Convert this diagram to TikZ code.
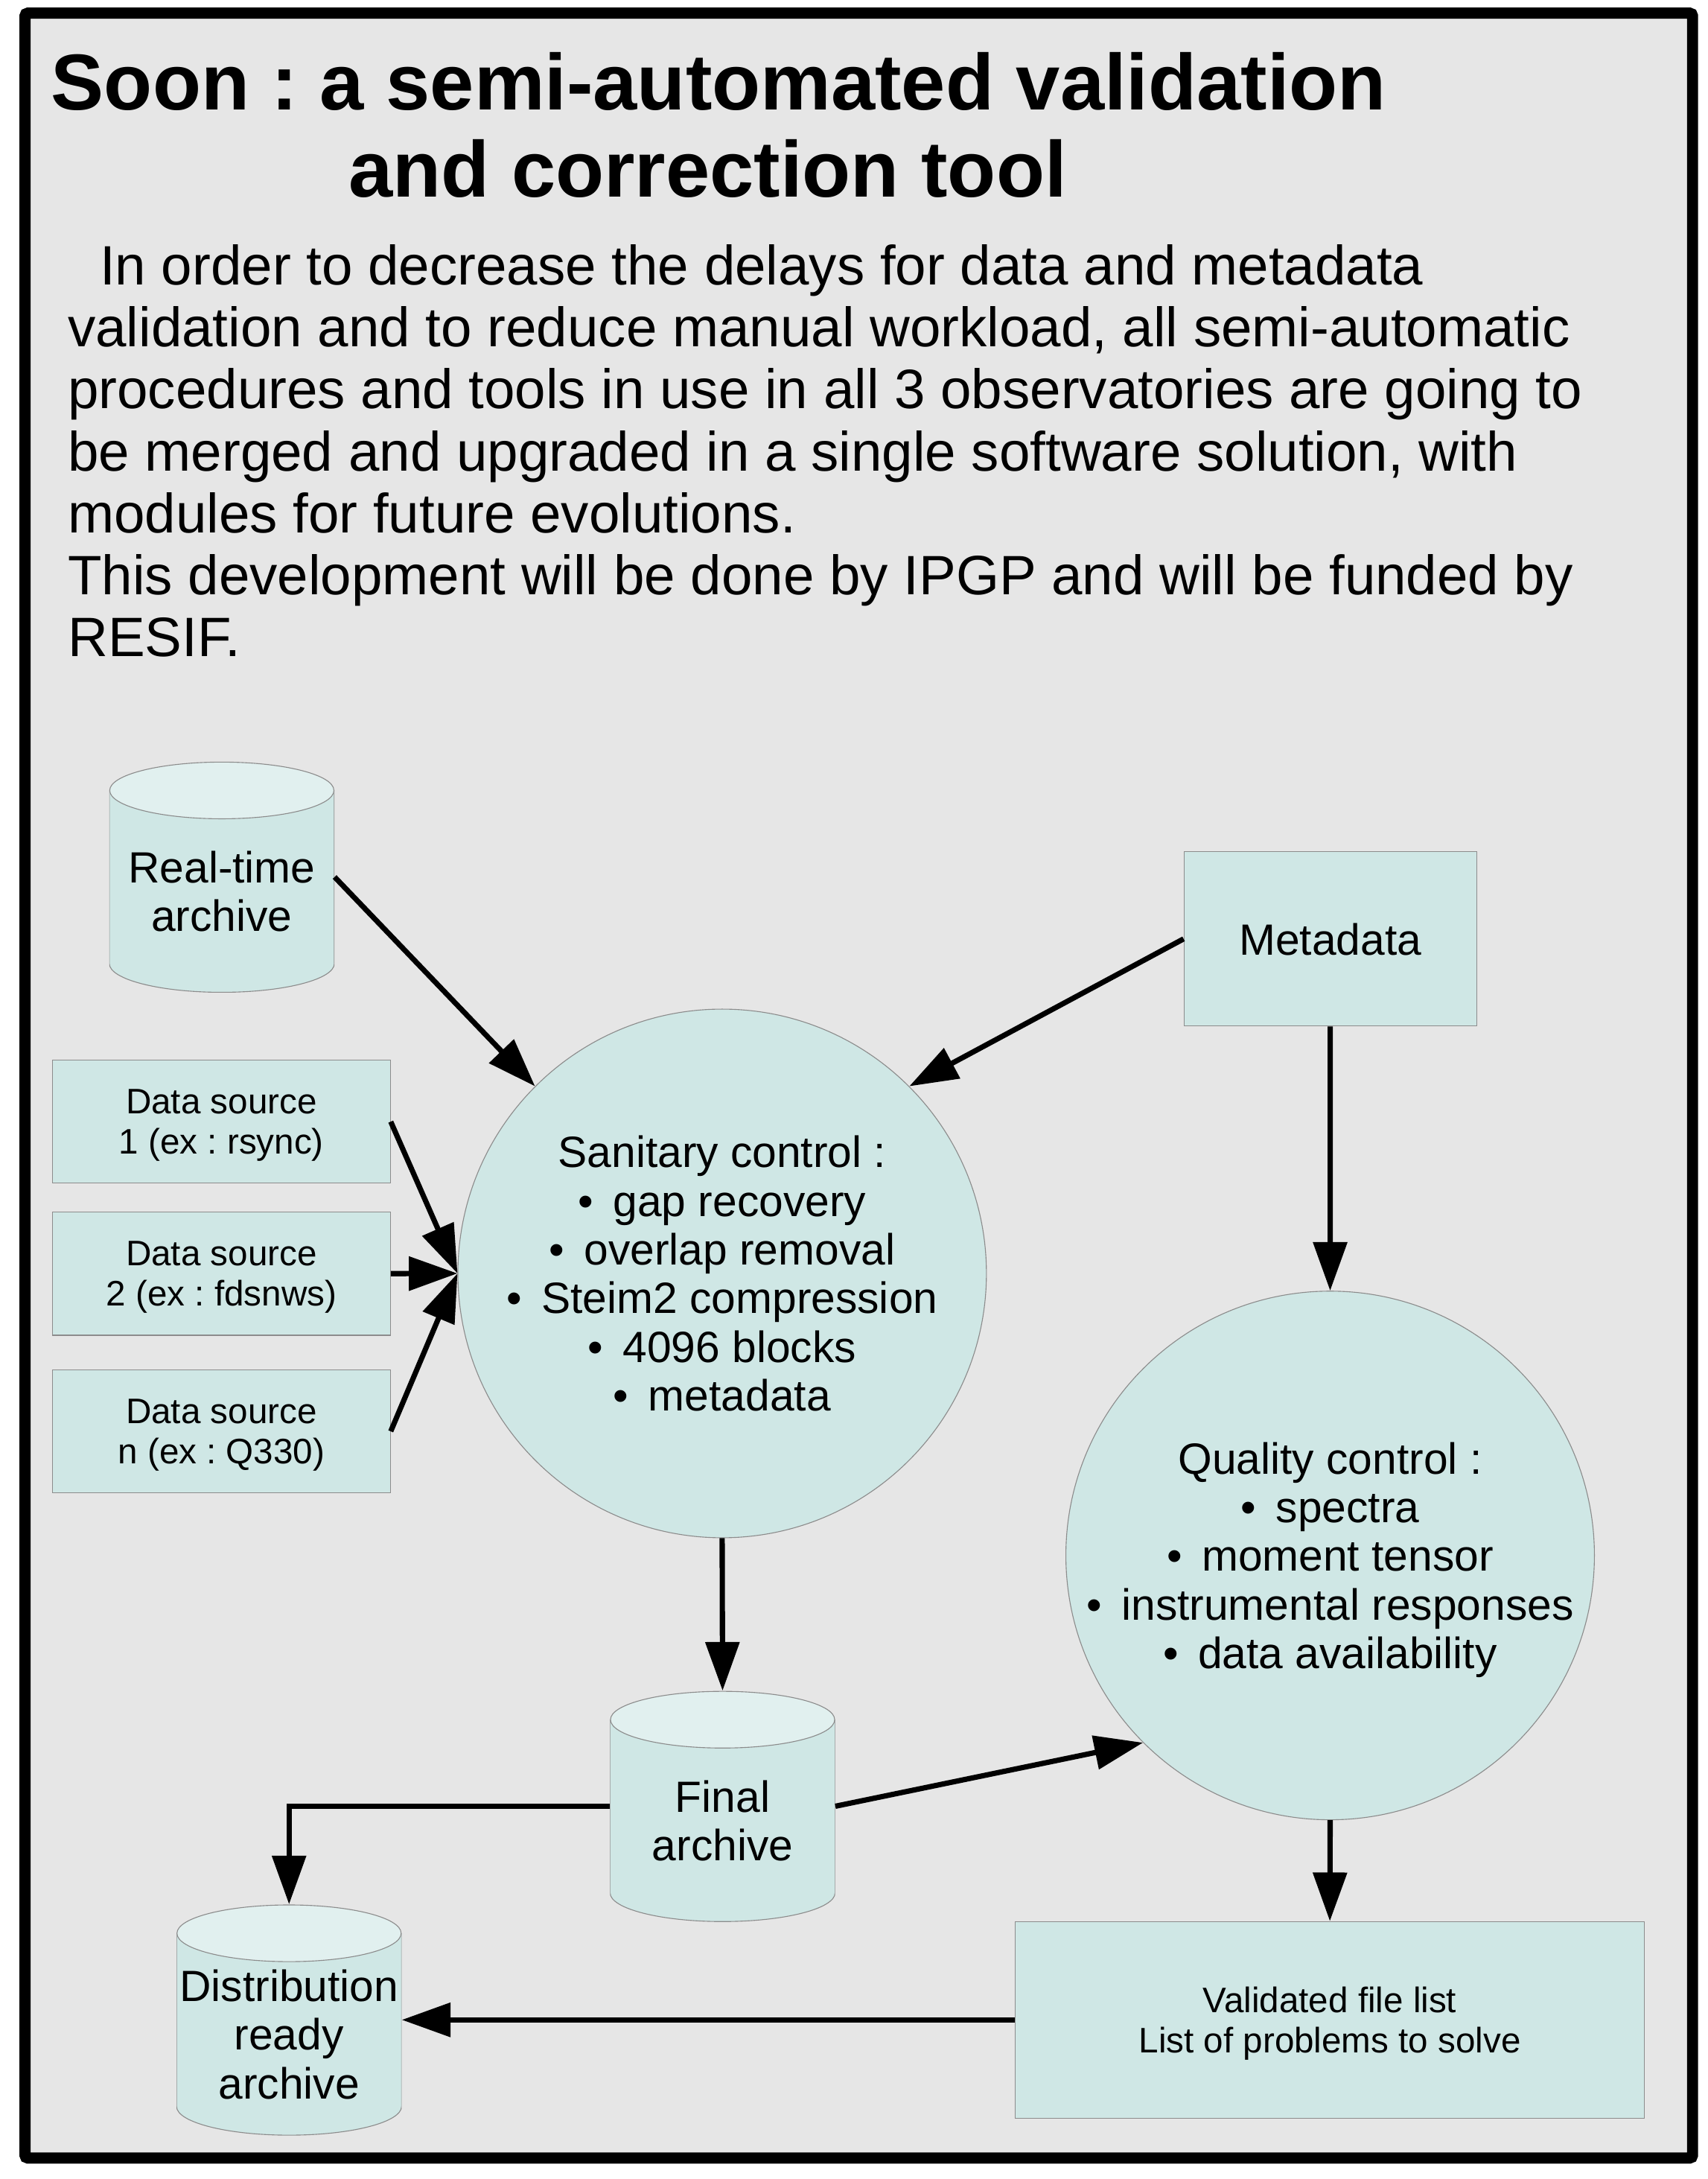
\documentclass[tikz,border=0pt]{standalone}
\usepackage{fontspec}
\setmainfont{Liberation Sans}
\usetikzlibrary{positioning,arrows.meta}
\frenchspacing

\definecolor{panelgray}{HTML}{E6E6E6}
\definecolor{boxfill}{HTML}{CFE7E5}
\definecolor{capfill}{HTML}{E1F0EF}
\definecolor{edgegray}{HTML}{8C8C8C}

\newcommand{\titlefont}{\fontsize{57.3}{62.6}\bfseries\selectfont}
\newcommand{\bodyfont}{\fontsize{40.1}{44.7}\selectfont}
\newcommand{\midfont}{\fontsize{31.6}{35.2}\selectfont}
\newcommand{\smallfont}{\fontsize{25.6}{28.8}\selectfont}
\newcommand{\bul}{•\hspace{0.45em}}

\tikzset{
  box/.style={rectangle,draw=edgegray,line width=0.6bp,fill=boxfill,inner sep=0pt,text depth=0pt,align=center},
  disc/.style={circle,draw=edgegray,line width=0.6bp,fill=boxfill,minimum size=380.5bp,inner sep=-6bp,text depth=0pt,align=center,font=\midfont},
  % cylinder drawn inside a plain rectangle node, top cap 20.7bp high
  store/.style={rectangle,minimum width=162bp,minimum height=166bp,inner sep=0pt,text height=#1,text depth=0pt,
    align=center,font=\midfont,
    path picture={
      \filldraw [fill=boxfill,draw=edgegray,line width=0.6bp]
        ([yshift=-20.7bp]path picture bounding box.north west)
        -- ([yshift=20.7bp]path picture bounding box.south west)
        arc [start angle=180,end angle=360,x radius=81bp,y radius=20.7bp]
        -- ([yshift=-20.7bp]path picture bounding box.north east);
      \filldraw [fill=capfill,draw=edgegray,line width=0.6bp]
        ([yshift=-20.7bp]path picture bounding box.north) ellipse [x radius=80.7bp,y radius=20.4bp];
    }},
}

\begin{document}
\begin{tikzpicture}[>={Triangle[length=35bp,width=24bp]},line join=miter]
\useasboundingbox (0bp,0bp) rectangle (1229.6bp,1568.4bp);
%%
\draw [line width=8bp,fill=panelgray,rounded corners=2bp] (18bp,15.1bp) rectangle (1218.5bp,1558.9bp);
\node (title) at (517.5bp,1426.8bp) [font=\titlefont,align=center,anchor=base,inner sep=0pt] {Soon : a semi-automated validation\\and correction tool\hspace*{16bp}};
\node (intro) at (48.7bp,1096bp) [font=\bodyfont,align=left,anchor=base west,inner sep=0pt] {\hspace*{23bp}In order to decrease the delays for data and metadata\\validation and to reduce manual workload, all semi-automatic\\procedures and tools in use in all 3 observatories are going to\\be merged and upgraded in a single software solution, with\\modules for future evolutions.\\This development will be done by IPGP and will be funded by\\RESIF.};
%
  \node (rt) at (159.7bp,937.15bp) [store=78.5bp] {Real-time\\archive};
  \node (ds1) at (159.4bp,761.05bp) [box,font=\smallfont,minimum width=243.2bp,minimum height=88.7bp] {Data source\\1 (ex : rsync)};
  \node (ds2) at (159.4bp,651.65bp) [box,font=\smallfont,minimum width=243.2bp,minimum height=88.7bp] {Data source\\2 (ex : fdsnws)};
  \node (ds3) at (159.4bp,538.15bp) [box,font=\smallfont,minimum width=243.2bp,minimum height=88.7bp] {Data source\\n (ex : Q330)};
  \node (san) at (519.9bp,651.8bp) [disc] {Sanitary control :\\\bul gap recovery\\\bul overlap removal\\\bul Steim2 compression\\\bul 4096 blocks\\\bul metadata};
  \node (meta) at (957.7bp,892.6bp) [box,font=\midfont,minimum width=210.6bp,minimum height=125.6bp] {Metadata};
  \node (qc) at (957.6bp,448.8bp) [disc] {Quality control :\\\bul spectra\\\bul moment tensor\\\bul instrumental responses\\\bul data availability};
  \node (final) at (520.2bp,268.3bp) [store=78.5bp] {Final\\archive};
  \node (dist) at (208.1bp,114.55bp) [store=113.7bp] {Distribution\\ready\\archive};
  \node (valid) at (957.4bp,114.55bp) [box,font=\smallfont,minimum width=453.2bp,minimum height=141.5bp] {Validated file list\\List of problems to solve};
%
  \draw [line width=3.8bp,->] (rt.east) -- (san.135);
  \draw [line width=3.8bp,->] (meta.west) -- (san.45);
  \draw [line width=3.8bp,->] (ds1.east) -- (san.west);
  \draw [line width=3.8bp,->] (ds2.east) -- (san.west);
  \draw [line width=3.8bp,->] (ds3.east) -- (san.west);
  \draw [line width=3.8bp,->] (meta.south) -- (qc.north);
  \draw [line width=3.8bp,->] (san.south) -- (final.north);
  \draw [line width=3.8bp,->] (final.east) -- (qc.225);
  \draw [line width=3.8bp,->] (final.west) -| (dist.north);
  \draw [line width=3.8bp,->] (qc.south) -- (valid.north);
  \draw [line width=3.8bp,->] (valid.west) -- (dist.east);
%
\end{tikzpicture}
\end{document}
